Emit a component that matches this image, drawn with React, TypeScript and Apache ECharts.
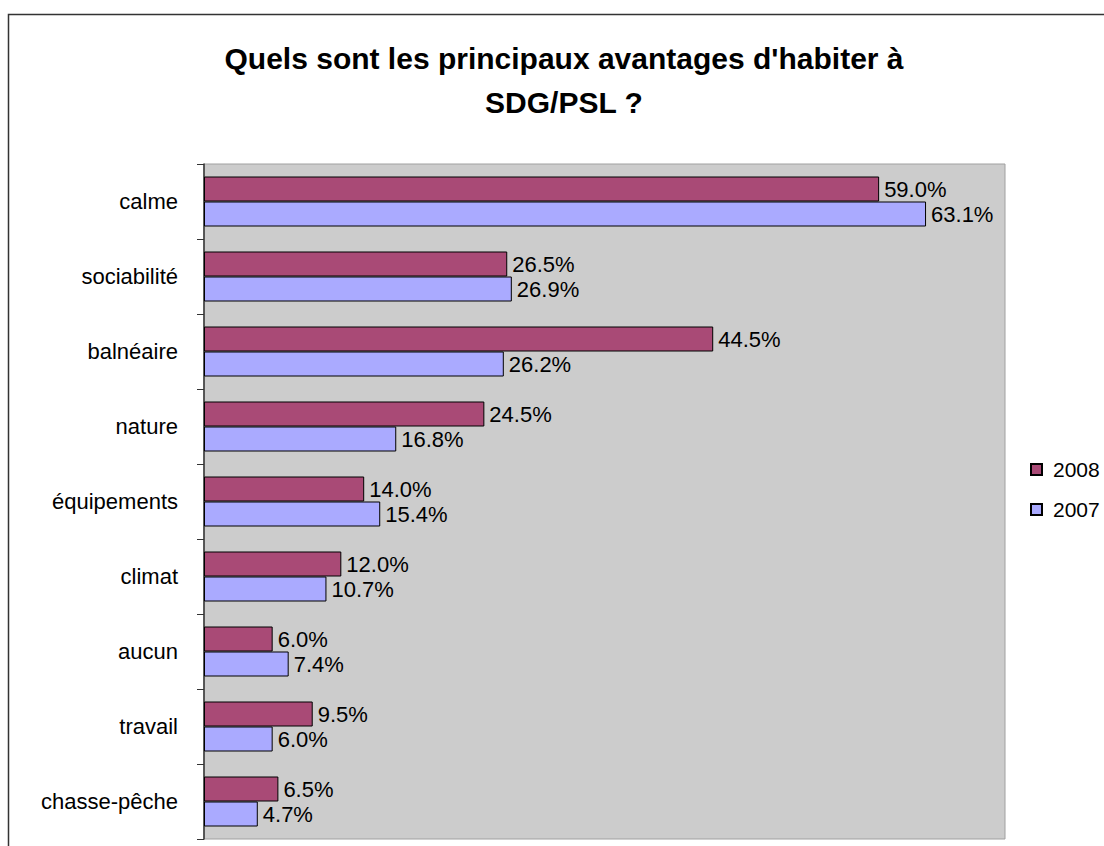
import React, { useEffect, useRef } from "react";
import * as echarts from "echarts";

const categories = [
  "calme",
  "sociabilité",
  "balnéaire",
  "nature",
  "équipements",
  "climat",
  "aucun",
  "travail",
  "chasse-pêche",
];
const values2008 = [59.0, 26.5, 44.5, 24.5, 14.0, 12.0, 6.0, 9.5, 6.5];
const values2007 = [63.1, 26.9, 26.2, 16.8, 15.4, 10.7, 7.4, 6.0, 4.7];
const seriesNames = ["2008", "2007"];
const titleText = "Quels sont les principaux avantages d'habiter à\nSDG/PSL ?";

const FONT = "'Liberation Sans', Arial, Helvetica, sans-serif";

export default function App() {
  const ref = useRef<HTMLDivElement>(null);
  useEffect(() => {
    if (!ref.current) return;
    const chart = echarts.init(ref.current, null, { renderer: "svg" });
    const label = {
      show: true,
      position: "right",
      distance: 5,
      fontSize: 22,
      fontFamily: FONT,
      color: "#000",
      formatter: (p: any) => Number(p.value).toFixed(1) + "%",
    };
    chart.setOption({
      animation: false,
      backgroundColor: "#fff",
      textStyle: { fontFamily: FONT },
      graphic: [
        {
          type: "rect",
          shape: { x: 8.5, y: 14.5, width: 1200, height: 1000 },
          style: { fill: "none", stroke: "#333", lineWidth: 1.5 },
          silent: true,
        },
      ],
      title: {
        text: titleText,
        left: 559,
        textAlign: "center",
        top: 31,
        textStyle: {
          fontSize: 30,
          fontWeight: "bold",
          fontFamily: FONT,
          color: "#000",
          lineHeight: 44,
        },
      },
      legend: {
        orient: "vertical",
        left: 1030,
        top: 459,
        padding: 0,
        itemWidth: 11,
        itemHeight: 11,
        itemGap: 19,
        icon: "rect",
        data: seriesNames,
        textStyle: { fontSize: 21, fontFamily: FONT, color: "#000", padding: [0, 0, 0, 6] },
      },
      grid: {
        left: 204,
        top: 164,
        width: 801,
        height: 675,
        show: true,
        backgroundColor: "#CCCCCC",
        borderColor: "#A0A0A0",
        borderWidth: 1,
        containLabel: false,
      },
      xAxis: {
        type: "value",
        min: 0,
        max: 70,
        axisLine: { show: false },
        axisTick: { show: false },
        axisLabel: { show: false },
        splitLine: { show: false },
      },
      yAxis: {
        type: "category",
        inverse: true,
        data: categories,
        axisLine: { show: true, lineStyle: { color: "#333", width: 1.5 } },
        axisTick: { show: true, length: 7, lineStyle: { color: "#333" } },
        axisLabel: { fontSize: 22, fontFamily: FONT, color: "#000", margin: 26 },
      },
      series: [
        {
          name: seriesNames[0],
          type: "bar",
          data: values2008,
          barWidth: 25,
          barGap: "0%",
          itemStyle: { color: "#A94A76", borderColor: "#000", borderWidth: 1 },
          label,
        },
        {
          name: seriesNames[1],
          type: "bar",
          data: values2007,
          barWidth: 25,
          barGap: "0%",
          itemStyle: { color: "#AAAAFF", borderColor: "#000", borderWidth: 1 },
          label,
        },
      ],
    });
    return () => chart.dispose();
  }, []);
  return (
    <div
      ref={ref}
      style={{ position: "absolute", left: 0, top: 0, width: 1104, height: 846 }}
    />
  );
}
